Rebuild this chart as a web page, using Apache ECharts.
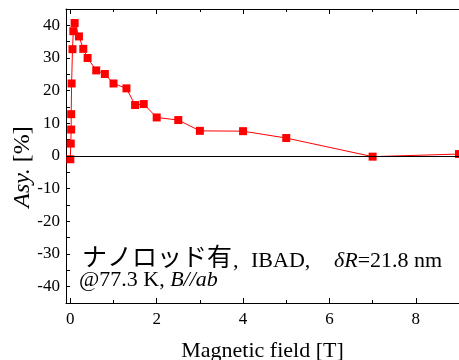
<!DOCTYPE html>
<html>
<head>
<meta charset="utf-8">
<script src="https://cdn.jsdelivr.net/npm/echarts@6/dist/echarts.min.js"></script>
<style>
  html, body { margin: 0; padding: 0; background: #fff; }
  #chart { width: 459px; height: 360px; }
</style>
</head>
<body>
<div id="chart"></div>
<script>
// field [T] and asymmetry [%]
const fieldT = [0.0, 0.01, 0.02, 0.02, 0.03, 0.05, 0.07, 0.1, 0.2, 0.3, 0.4, 0.6, 0.8, 1.0, 1.3, 1.5, 1.7, 2.0, 2.5, 3, 4, 5, 7, 9];
const asyPct = [-1.0, 3.8, 8.1, 12.8, 22.2, 32.7, 38.2, 40.7, 36.6, 32.8, 30.0, 26.2, 25.1, 22.2, 20.7, 15.6, 15.9, 11.8, 11.0, 7.7, 7.6, 5.5, -0.2, 0.6];

const xLabels = [0, 2, 4, 6, 8];
const xMajor = [0, 2, 4, 6, 8];
const xMinor = [1, 3, 5, 7];
const yLabels = [-40, -30, -20, -10, 0, 10, 20, 30, 40];

const serif = '"Liberation Serif", serif';
const cjk = '"Noto Sans CJK JP", sans-serif';

const chart = echarts.init(document.getElementById('chart'));

const xRange = { min: -0.1, max: 9 };
const tickStyle = { color: '#000', width: 1 };
const italic = { fontFamily: serif, fontStyle: 'italic', fill: '#000' };

chart.setOption({
  animation: false,
  grid: { left: 66, right: 0, top: 9, bottom: 57, outerBoundsMode: 'none', containLabel: false },
  xAxis: [
    {
      type: 'value', ...xRange,
      name: 'Magnetic field [T]',
      nameLocation: 'middle',
      nameGap: 37,
      nameTextStyle: { fontFamily: serif, fontSize: 22, color: '#000' },
      axisLine: { show: true, onZero: false, lineStyle: { color: '#000', width: 1 } },
      axisTick: { show: true, inside: true, length: 5, customValues: xMajor, lineStyle: tickStyle },
      axisLabel: { customValues: xLabels, margin: 8, fontFamily: serif, fontSize: 17, color: '#000' },
      splitLine: { show: false }
    },
    {
      type: 'value', ...xRange, position: 'bottom',
      axisLine: { show: false, onZero: false },
      axisTick: { show: true, inside: true, length: 3, customValues: xMinor, lineStyle: tickStyle },
      axisLabel: { show: false },
      splitLine: { show: false }
    },
    {
      type: 'value', ...xRange, position: 'top',
      axisLine: { show: true, onZero: false, lineStyle: { color: '#000', width: 1 } },
      axisTick: { show: true, inside: true, length: 5, customValues: xMajor, lineStyle: tickStyle },
      axisLabel: { show: false },
      splitLine: { show: false }
    },
    {
      type: 'value', ...xRange, position: 'top',
      axisLine: { show: false, onZero: false },
      axisTick: { show: true, inside: true, length: 3, customValues: xMinor, lineStyle: tickStyle },
      axisLabel: { show: false },
      splitLine: { show: false }
    }
  ],
  yAxis: {
    type: 'value',
    min: -45, max: 45, interval: 5,
    axisLine: { show: true, onZero: false, lineStyle: { color: '#000', width: 1 } },
    axisTick: { show: true, inside: true, length: 4, lineStyle: tickStyle },
    axisLabel: { customValues: yLabels, margin: 6, fontFamily: serif, fontSize: 17, color: '#000' },
    splitLine: { show: false }
  },
  series: [
    {
      type: 'line',
      data: fieldT.map((x, i) => [x, asyPct[i]]),
      symbol: 'rect',
      symbolSize: 8,
      showAllSymbol: true,
      itemStyle: { color: '#ff0000' },
      lineStyle: { color: '#ff0000', width: 1 },
      markLine: {
        silent: true,
        symbol: 'none',
        label: { show: false },
        lineStyle: { color: '#000', width: 1, type: 'solid' },
        data: [{ yAxis: 0 }]
      },
      z: 3
    }
  ],
  graphic: [
    // y axis title, rotated
    {
      type: 'text', x: 23, y: 167, rotation: Math.PI / 2,
      style: {
        text: '{i|Asy.} [%]',
        fontFamily: serif, fontSize: 24, fill: '#000',
        align: 'center', verticalAlign: 'middle',
        rich: { i: { ...italic, fontSize: 24 } }
      }
    },
    // annotation line 1
    {
      type: 'text', x: 82, y: 256,
      style: { text: 'ナノロッド有', fontFamily: cjk, fontSize: 25, fill: '#000', verticalAlign: 'middle' }
    },
    {
      type: 'text', x: 233, y: 261,
      style: { text: ',', fontFamily: serif, fontSize: 22, fill: '#000', verticalAlign: 'middle' }
    },
    {
      type: 'text', x: 251, y: 261,
      style: { text: 'IBAD,', fontFamily: serif, fontSize: 22, fill: '#000', verticalAlign: 'middle' }
    },
    {
      type: 'text', x: 334, y: 261,
      style: {
        text: '{i|δR}=21.8 nm',
        fontFamily: serif, fontSize: 22, fill: '#000', verticalAlign: 'middle',
        rich: { i: { ...italic, fontSize: 22 } }
      }
    },
    // annotation line 2
    {
      type: 'text', x: 79, y: 280,
      style: {
        text: '@77.3 K, {i|B//ab}',
        fontFamily: serif, fontSize: 22, fill: '#000', verticalAlign: 'middle',
        rich: { i: { ...italic, fontSize: 22 } }
      }
    }
  ]
});
</script>
</body>
</html>
